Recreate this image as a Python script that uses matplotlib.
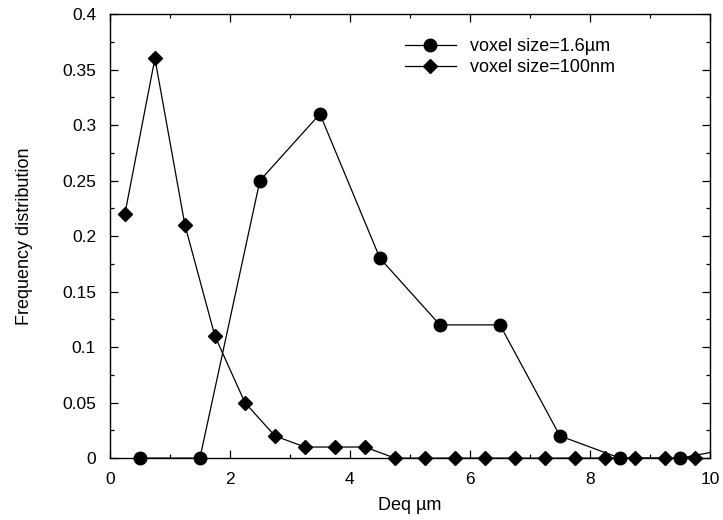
import matplotlib
matplotlib.use("Agg")
import matplotlib.pyplot as plt
from matplotlib.lines import Line2D
from matplotlib.ticker import MultipleLocator

plt.rcParams['font.family'] = ['Liberation Sans', 'DejaVu Sans']

# Coarse scan (1.6 µm voxels), bins of 1 µm
x_coarse = [0.5, 1.5, 2.5, 3.5, 4.5, 5.5, 6.5, 7.5, 8.5, 9.5, 10.5]
y_coarse = [0, 0, 0.25, 0.31, 0.18, 0.12, 0.12, 0.02, 0, 0, 0.01]

# Fine scan (100 nm voxels), bins of 0.5 µm
x_fine = [0.25, 0.75, 1.25, 1.75, 2.25, 2.75, 3.25, 3.75, 4.25, 4.75,
          5.25, 5.75, 6.25, 6.75, 7.25, 7.75, 8.25, 8.75, 9.25, 9.75]
y_fine = [0.22, 0.36, 0.21, 0.11, 0.05, 0.02, 0.01, 0.01, 0.01, 0,
          0, 0, 0, 0, 0, 0, 0, 0, 0, 0]

labels = ["voxel size=1.6\u00b5m", "voxel size=100nm"]

X_MAX = 10
LW = 0.9

fig = plt.figure(figsize=(7.23, 5.2), dpi=100)
ax = fig.add_axes([0.152, 0.119, 0.830, 0.854])

series = [(x_coarse, y_coarse, 'o', 9), (x_fine, y_fine, 'D', 7)]
handles = []
for (xs, ys, mk, ms), lab in zip(series, labels):
    # connecting line is clipped at the frame, markers are not
    ax.plot(xs, ys, color='black', lw=LW, clip_on=True)
    xin = [x for x in xs if x <= X_MAX]
    yin = [y for x, y in zip(xs, ys) if x <= X_MAX]
    ax.plot(xin, yin, linestyle='none', marker=mk, ms=ms, color='black',
            clip_on=False, zorder=3)
    handles.append(Line2D([], [], color='black', lw=LW, marker=mk, ms=ms,
                          label=lab))

ax.set_xlim(0, X_MAX)
ax.set_ylim(0, 0.4)
ax.xaxis.set_minor_locator(MultipleLocator(1))
ax.yaxis.set_minor_locator(MultipleLocator(0.025))
ax.set_yticks([0, 0.05, 0.1, 0.15, 0.2, 0.25, 0.3, 0.35, 0.4])
ax.set_yticklabels(['0', '0.05', '0.1', '0.15', '0.2', '0.25', '0.3', '0.35', '0.4'])
ax.set_xticks([0, 2, 4, 6, 8, 10])
ax.set_xticklabels(['0', '2', '4', '6', '8', '10'])

ax.tick_params(which='both', direction='in', top=True, right=True,
               labelsize=12.5, width=0.9, pad=10)
ax.tick_params(which='major', length=6)
ax.tick_params(which='minor', length=3)
for s in ax.spines.values():
    s.set_linewidth(1.0)

ax.set_xlabel("Deq \u00b5m", fontsize=13, labelpad=7.5)
ax.set_ylabel("Frequency distribution", fontsize=13, labelpad=21)

ax.legend(handles=handles, loc='upper left', bbox_to_anchor=(0.492, 0.946),
          frameon=False, fontsize=13, handlelength=2.8, handletextpad=0.8,
          labelspacing=0.23, borderaxespad=0, borderpad=0)

fig.savefig("out.png", dpi=100)
